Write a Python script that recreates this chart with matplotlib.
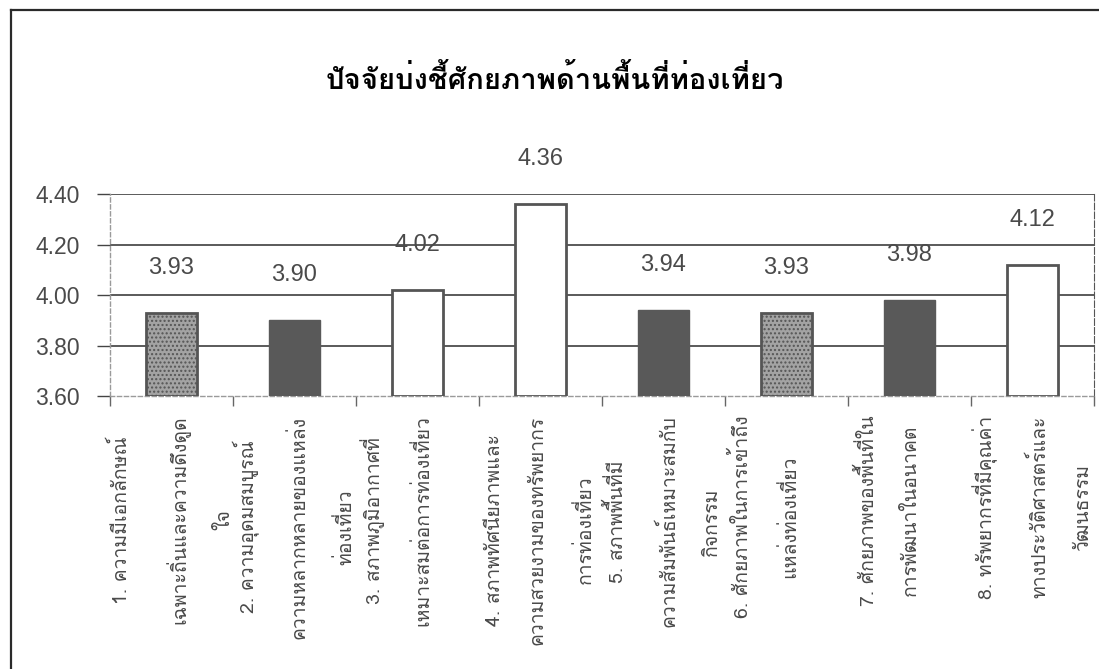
import matplotlib
matplotlib.use("Agg")
import matplotlib.pyplot as plt
from matplotlib.lines import Line2D

# ---- data ----
title = "ปัจจัยบ่งชี้ศักยภาพด้านพื้นที่ท่องเที่ยว"
category_lines = [
    ["1. ความมีเอกลักษณ์", "เฉพาะถิ่นและความดึงดูด", "ใจ"],
    ["2. ความอุดมสมบูรณ์", "ความหลากหลายของแหล่ง", "ท่องเที่ยว"],
    ["3. สภาพภูมิอากาศที่", "เหมาะสมต่อการท่องเที่ยว"],
    ["4. สภาพทัศนียภาพและ", "ความสวยงามของทรัพยากร", "การท่องเที่ยว"],
    ["5. สภาพพื้นที่มี", "ความสัมพันธ์เหมาะสมกับ", "กิจกรรม"],
    ["6. ศักยภาพในการเข้าถึง", "แหล่งท่องเที่ยว"],
    ["7. ศักยภาพของพื้นที่ใน", "การพัฒนาในอนาคต"],
    ["8. ทรัพยากรที่มีคุณค่า", "ทางประวัติศาสตร์และ", "วัฒนธรรม"],
]
values = [3.93, 3.90, 4.02, 4.36, 3.94, 3.93, 3.98, 4.12]
y_ticks = [3.60, 3.80, 4.00, 4.20, 4.40]

# ---- styles ----
bar_styles = ["stipple", "dark", "white", "white", "dark", "stipple", "dark", "white"]

THAI = ["Loma", "Noto Sans Thai Looped", "Noto Sans Thai", "DejaVu Sans"]
NUM = ["Liberation Sans", "DejaVu Sans"]
TXT = "#4a4a4a"

W, H = 1099, 669
fig = plt.figure(figsize=(W / 100, H / 100), dpi=100)
fig.patch.set_facecolor("white")

L, R, T, B = 110, 1094, 194, 396
ax = fig.add_axes([L / W, 1 - B / H, (R - L) / W, (B - T) / H])

x = list(range(len(values)))
for i, (v, s) in enumerate(zip(values, bar_styles)):
    if s == "dark":
        kw = dict(facecolor="#595959", edgecolor="#595959", linewidth=1.0)
    elif s == "white":
        kw = dict(facecolor="white", edgecolor="#555555", linewidth=2.0)
    else:
        kw = dict(facecolor="#a3a3a3", edgecolor="#555555", linewidth=2.0, hatch="....")
    ax.bar(x[i], v - 3.60, bottom=3.60, width=0.41, zorder=3, **kw)

for i, v in enumerate(values):
    ax.annotate(f"{v:.2f}", xy=(x[i], v), xytext=(0, 45 * 0.72),
                textcoords="offset points", ha="center", va="center",
                fontsize=17, color=TXT, family=NUM, annotation_clip=False)

ax.set_ylim(3.60, 4.40)
ax.set_xlim(-0.5, len(values) - 0.5)
ax.set_yticks(y_ticks)
ax.set_yticklabels([f"{t:.2f}" for t in y_ticks], fontsize=16.5, color=TXT, family=NUM)
ax.tick_params(axis="y", length=9.5, width=1.0, color="#444444", pad=12)

ax.set_xticks([i - 0.5 for i in range(len(values) + 1)])
ax.set_xticklabels([])
ax.tick_params(axis="x", length=7, width=1.0, color="#666666")

for yv in y_ticks[1:]:
    ax.axhline(yv, color="#4d4d4d", linewidth=1.3, zorder=1)

for side in ["left", "bottom"]:
    ax.spines[side].set_color("#9a9a9a")
    ax.spines[side].set_linestyle((0, (3, 2)))
    ax.spines[side].set_linewidth(1.0)
ax.spines["right"].set_color("#555555")
ax.spines["right"].set_linestyle((0, (6, 2)))
ax.spines["top"].set_visible(False)

for i, lines in enumerate(category_lines):
    padded = lines + [""] * (3 - len(lines))
    ax.annotate("\n".join(padded), xy=(x[i], 0), xycoords=("data", "axes fraction"),
                xytext=(0, -14), textcoords="offset points", rotation=90,
                ha="center", va="top", multialignment="center", linespacing=2.75,
                fontsize=14, color=TXT, family=THAI, annotation_clip=False)

fig.text(555 / W, 1 - 80 / H, title, ha="center", va="center", fontsize=21,
         fontweight="bold", color="black", family=THAI)

fig.add_artist(Line2D([11 / W, 11 / W], [0, 1 - 10 / H], transform=fig.transFigure,
                      color="#2a2a2a", linewidth=1.6))
fig.add_artist(Line2D([11 / W, 1], [1 - 10 / H, 1 - 10 / H], transform=fig.transFigure,
                      color="#2a2a2a", linewidth=1.6))

fig.savefig("out.png", dpi=100)
